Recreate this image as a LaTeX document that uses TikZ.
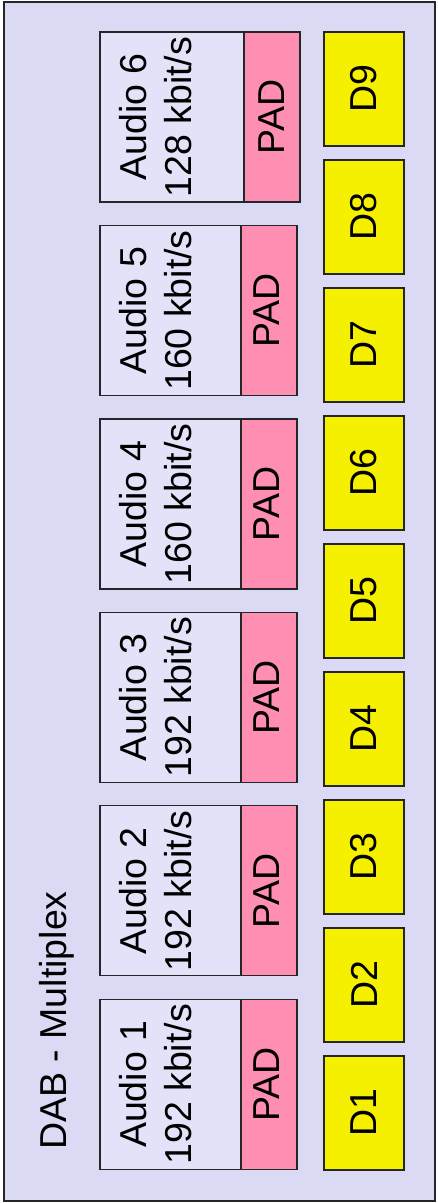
\documentclass[tikz,border=0pt]{standalone}
\usepackage{fontspec}
\setmainfont{Liberation Sans}
\definecolor{outerbg}{RGB}{218,218,244}
\definecolor{audiobg}{RGB}{226,226,248}
\definecolor{padpink}{RGB}{255,143,178}
\definecolor{dyellow}{RGB}{245,240,0}
\tikzset{
  outerframe/.style={draw=black!85, fill=outerbg, line width=1.5pt},
  audiobox/.style={draw=black!85, fill=audiobg, line width=1.2pt, rectangle, inner sep=0pt, minimum height=170pt},
  padbox/.style={draw=black!85, fill=padpink, line width=1.2pt, rectangle, inner sep=0pt, minimum width=56pt, minimum height=170pt},
  dbox/.style={draw=black!85, fill=dyellow, line width=1.2pt, rectangle, inner sep=0pt, minimum width=80pt, minimum height=114pt},
  lbl/.style={rotate=90, inner sep=0pt, align=center, font=\fontsize{37.5}{45}\selectfont},
}
\begin{document}
\begin{tikzpicture}[x=1pt,y=-1pt]
\useasboundingbox (0,0) rectangle (437,1203);
\node[outerframe, rectangle, inner sep=0pt, minimum width=431pt, minimum height=1199pt] (frame) at (219.5,601.5) {};
\node[lbl, anchor=base] (title) at (66.5,1020.5) {DAB - Multiplex};
% audio services
\foreach \i/\rate in {1/192,2/192,3/192,4/160,5/160}{
  \pgfmathsetmacro{\cy}{999.3-(\i-1)*193.45+85}
  \node[audiobox, minimum width=141pt] (a\i) at (170.5,\cy) {};
  \node[padbox] (p\i) at (269,\cy) {};
  \node[lbl] (at\i) at (156,\cy) {Audio \i\\\rate{} kbit/s};
  \node[lbl] (pt\i) at (267,\cy) {PAD};
}
\node[audiobox, minimum width=144pt] (a6) at (172,117.05) {};
\node[padbox] (p6) at (272,117.05) {};
\node[lbl] (at6) at (156,117.05) {Audio 6\\128 kbit/s};
\node[lbl] (pt6) at (272,117.05) {PAD};
% data services
\foreach \j in {1,...,9}{
  \pgfmathsetmacro{\dy}{1056-(\j-1)*128+57}
  \node[dbox] (d\j) at (364,\dy) {};
  \node[lbl] (dt\j) at (364,\dy) {D\j};
}
\end{tikzpicture}
\end{document}
